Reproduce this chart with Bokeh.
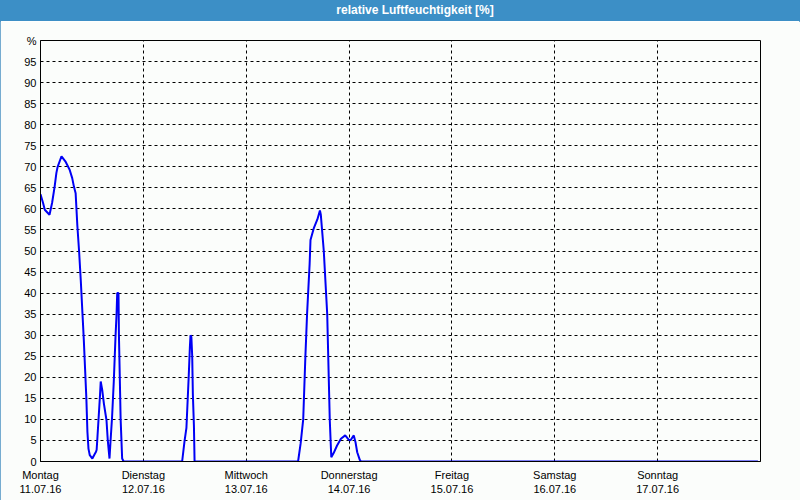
from bokeh.plotting import figure
from bokeh.models import FixedTicker, Range1d, Div
from bokeh.layouts import column
from bokeh.embed import file_html
from bokeh.resources import INLINE

# hours since Monday 11.07.16 00:00, relative humidity [%]
hours = [0.0, 0.6, 1.0, 2.1, 2.7, 3.3, 3.7, 4.0, 4.9, 5.8, 6.8, 7.4, 7.8,
         8.2, 8.6, 9.0, 9.4, 9.8, 10.1, 10.4, 10.7, 10.95, 11.2, 11.5, 12.1,
         12.5, 12.95, 13.1, 13.3, 13.6, 13.9, 14.05, 14.4, 14.8, 15.4, 15.7,
         16.1, 16.35, 16.7, 17.1, 17.5, 17.75, 17.9, 18.2, 18.3, 18.5, 18.7,
         19.05, 19.4,
         33.05, 33.6, 34.05, 34.6, 34.85, 35.0, 35.2, 35.4, 35.55, 35.8, 35.95,
         60.1, 60.7, 61.3, 61.8, 62.2, 62.8, 63.0, 63.8, 64.6, 65.2, 65.4,
         66.1, 66.9, 67.5, 67.85, 68.4, 69.2, 70.1, 71.1, 71.9, 72.3, 73.1,
         73.5, 73.9, 74.5, 74.8, 167.4]
humidity = [63.5, 61.4, 59.8, 58.6, 61.4, 65.3, 68.5, 70.0, 72.5, 71.3, 69.3, 67.3, 65.3,
            63.7, 56.0, 50.0, 43.0, 35.0, 29.0, 22.0, 15.0, 7.0, 3.0, 1.5, 0.7,
            1.5, 2.3, 2.8, 6.0, 11.0, 16.0, 19.0, 17.0, 13.7, 9.8, 5.0,
            0.7, 5.0, 10.5, 19.0, 29.6, 35.0, 40.0, 40.0, 30.0, 20.0, 10.0,
            0.7, 0.0,
            0.0, 4.8, 8.0, 20.6, 27.0, 30.0, 29.6, 25.0, 16.0, 8.5, 0.0,
            0.0, 4.3, 10.0, 24.8, 35.0, 47.0, 52.6, 55.5, 57.5, 59.6, 58.7,
            50.0, 35.0, 9.8, 1.0, 2.0, 3.8, 5.4, 6.2, 5.2, 5.0, 6.2,
            4.6, 2.2, 0.4, 0.0, 0.0]

day_ticks = [0, 24, 48, 72, 96, 120, 144]
day_names = ["Montag", "Dienstag", "Mittwoch", "Donnerstag", "Freitag", "Samstag", "Sonntag"]
day_dates = ["11.07.16", "12.07.16", "13.07.16", "14.07.16", "15.07.16", "16.07.16", "17.07.16"]
y_ticks = list(range(0, 101, 5))
title_text = "relative Luftfeuchtigkeit [%]"

BG = "#FBFDFB"
BLUE_BAR = "#3C8FC6"
FONT = "Liberation Sans"

p = figure(width=800, height=479, output_backend="svg", toolbar_location=None,
           x_range=Range1d(0, 168), y_range=Range1d(0, 100),
           min_border_left=40, min_border_right=40, min_border_top=19, min_border_bottom=39,
           margin=0)
p.background_fill_color = BG
p.border_fill_color = BG
p.outline_line_color = "black"
p.outline_line_width = 1

# grids
p.xgrid.ticker = FixedTicker(ticks=day_ticks[1:])
p.ygrid.ticker = FixedTicker(ticks=y_ticks[1:-1])
for g in (p.xgrid, p.ygrid):
    g.grid_line_color = "black"
    g.grid_line_dash = "3 3"
    g.grid_line_width = 1

# axes
p.xaxis.ticker = FixedTicker(ticks=day_ticks)
p.xaxis.major_label_overrides = {t: f"{n}\n{d}" for t, n, d in zip(day_ticks, day_names, day_dates)}
p.yaxis.ticker = FixedTicker(ticks=y_ticks)
p.yaxis.major_label_overrides = {100: "%"}
for ax in (p.xaxis, p.yaxis):
    ax.major_tick_out = 0
    ax.major_tick_in = 0
    ax.minor_tick_out = 0
    ax.minor_tick_in = 0
    ax.axis_line_color = "black"
    ax.major_label_text_font = FONT
    ax.major_label_text_font_size = "11px"
    ax.major_label_text_color = "black"
p.xaxis.major_label_standoff = 7
p.yaxis.major_label_standoff = 4

p.line(hours, humidity, line_color="#0000F5", line_width=2)

title_bar = Div(text=title_text, width=800, height=21, margin=0,
                styles={"background-color": BLUE_BAR, "color": "white",
                        "font-family": FONT, "font-weight": "bold", "font-size": "12px",
                        "text-align": "center", "line-height": "21px", "text-indent": "30px"})

layout = column(title_bar, p, spacing=0, margin=0,
                styles={"outline": "1px solid #4A90C2", "outline-offset": "-1px"})

open("out.html", "w").write(file_html(layout, INLINE))
